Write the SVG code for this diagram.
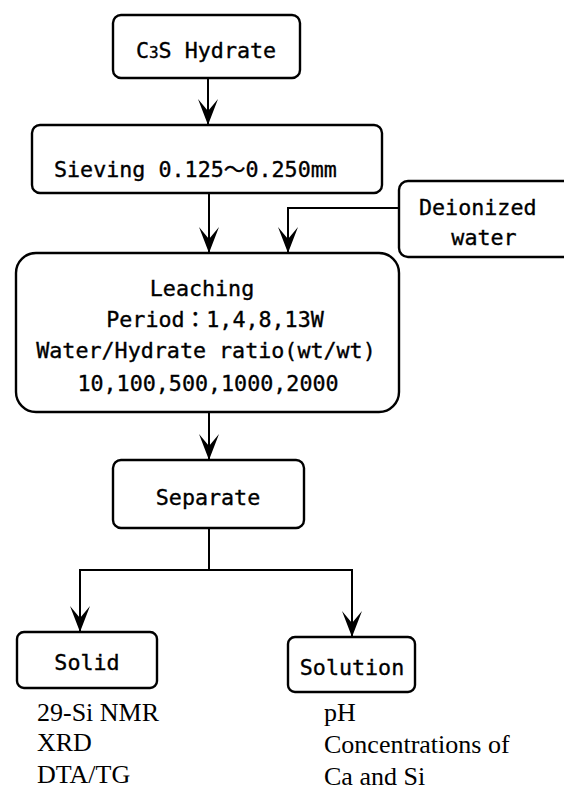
<svg xmlns="http://www.w3.org/2000/svg" width="564" height="789" viewBox="0 0 564 789">
<defs>
<marker id="ah" markerWidth="30" markerHeight="26" viewBox="-28 -12 30 24" refX="0" refY="0" orient="auto" markerUnits="userSpaceOnUse">
<path d="M0,0 L-26,-10 L-14,0 L-26,10 Z" fill="#000"/>
</marker>
<style>
.box{fill:#fff;stroke:#000;stroke-width:2.4}
.g{font-family:"DejaVu Sans Mono","Liberation Mono",monospace;font-size:21.7px;fill:#000;stroke:#000;stroke-width:0.35}
.t{font-family:"Liberation Serif","Times New Roman",serif;font-size:26px;fill:#000}
.c{fill:none;stroke:#000;stroke-width:2}
</style>
</defs>
<rect width="564" height="789" fill="#fff"/>
<g id="connectors">
<line class="c" x1="208" y1="78" x2="208" y2="125" marker-end="url(#ah)"/>
<line class="c" x1="209" y1="193" x2="209" y2="253" marker-end="url(#ah)"/>
<polyline class="c" points="399,208 288,208 288,253" marker-end="url(#ah)"/>
<line class="c" x1="209" y1="412" x2="209" y2="460" marker-end="url(#ah)"/>
<polyline class="c" points="209,528 209,570 80,570 80,632" marker-end="url(#ah)"/>
<polyline class="c" points="209,570 352,570 352,637" marker-end="url(#ah)"/>
</g>
<g id="c3s">
<rect class="box" x="113" y="15" width="187" height="63" rx="8"/>
<text class="g" x="206" y="58" text-anchor="middle">C<tspan font-size="16px">3</tspan>S Hydrate</text>
</g>
<g id="sieving">
<rect class="box" x="32" y="125" width="350" height="68" rx="8"/>
<text class="g" x="54" y="177">Sieving 0.125<tspan font-family="Noto Sans CJK JP">〜</tspan>0.250mm</text>
</g>
<g id="deionized">
<rect class="box" x="399" y="181" width="190" height="76" rx="9"/>
<text class="g" x="419" y="215">Deionized</text>
<text class="g" x="484" y="245" text-anchor="middle">water</text>
</g>
<g id="leaching">
<rect class="box" x="16" y="253" width="383" height="159" rx="20"/>
<text class="g" x="202" y="296" text-anchor="middle">Leaching</text>
<text class="g" x="215" y="327" text-anchor="middle">Period<tspan font-family="Noto Sans CJK JP">：</tspan>1,4,8,13W</text>
<text class="g" x="206" y="358" text-anchor="middle">Water/Hydrate ratio(wt/wt)</text>
<text class="g" x="208" y="391" text-anchor="middle">10,100,500,1000,2000</text>
</g>
<g id="separate">
<rect class="box" x="113" y="460" width="191" height="68" rx="8"/>
<text class="g" x="208" y="505" text-anchor="middle">Separate</text>
</g>
<g id="solid">
<rect class="box" x="17" y="632" width="140" height="56" rx="7"/>
<text class="g" x="87" y="670" text-anchor="middle">Solid</text>
<text class="t" x="37" y="721">29-Si NMR</text>
<text class="t" x="37" y="751">XRD</text>
<text class="t" x="37" y="783">DTA/TG</text>
</g>
<g id="solution">
<rect class="box" x="288" y="637" width="127" height="55" rx="7"/>
<text class="g" x="352" y="675" text-anchor="middle">Solution</text>
<text class="t" x="324" y="721">pH</text>
<text class="t" x="324" y="753">Concentrations of</text>
<text class="t" x="324" y="785">Ca and Si</text>
</g>
</svg>
